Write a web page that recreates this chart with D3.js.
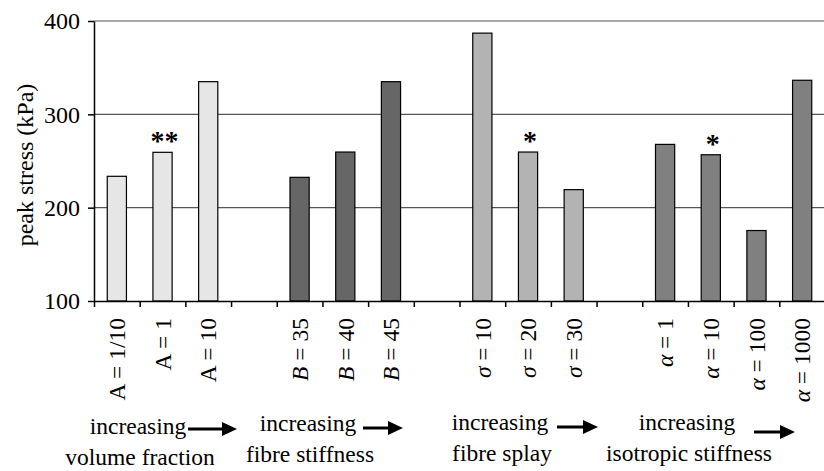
<html>
<head>
<style>
body { margin: 0; padding: 0; background: #fff; }
svg { display: block; }
text { font-family: "Liberation Serif", "Times New Roman", serif; fill: #000; }
.grid line { stroke: #555; stroke-width: 1.2; }
.axis path, .axis line { stroke: #000; stroke-width: 1.5; }
.bars rect { stroke: #000; stroke-width: 1.2; }
</style>
<script src="https://cdnjs.cloudflare.com/ajax/libs/d3/7.8.5/d3.min.js"></script>
</head>
<body>
<svg width="824" height="471"></svg>

<script>
var width = 824, height = 471

// data
var symbols = ['A', 'A', 'A', 'B', 'B', 'B', 'σ', 'σ', 'σ', 'α', 'α', 'α', 'α']
var settings = ['1/10', '1', '10', '35', '40', '45', '10', '20', '30', '1', '10', '100', '1000']
var peakStress = [233.6, 259.3, 335, 232.5, 259.6, 335, 387, 259.6, 219.3, 267.8, 256.7, 175.5, 336.5]
var marks = ['', '**', '', '', '', '', '', '*', '', '', '*', '', '']
var groupOf = [0, 0, 0, 1, 1, 1, 2, 2, 2, 3, 3, 3, 3]
var yTicks = [100, 200, 300, 400]
var captionTop = ['increasing', 'increasing', 'increasing', 'increasing']
var captionBottom = ['volume fraction', 'fibre stiffness', 'fibre splay', 'isotropic stiffness']

var groupColors = ['#e6e6e6', '#666666', '#b3b3b3', '#808080']
var italicSymbols = ['B', 'σ', 'α']

// slots along the x axis, one empty slot between groups
var slots = []
symbols.forEach(function(s, i) {
	if (i > 0 && groupOf[i] != groupOf[i - 1]) slots.push('gap' + i)
	slots.push('c' + i)
})

var plotLeft = 94, plotRight = 825, plotTop = 21, plotBottom = 301

var x = d3.scaleBand()
	.domain(slots)
	.range([plotLeft, plotRight])
	.paddingInner(0.58)
	.paddingOuter(0.29)

var xSlot = d3.scaleLinear().domain([0, slots.length]).range([plotLeft, plotRight])

var y = d3.scaleLinear().domain([100, 400]).range([plotBottom, plotTop])

var svg = d3.select('svg')

// gridlines
svg.append('g').attr('class', 'grid')
	.selectAll('line')
	.data(yTicks.slice(1))
	.join('line')
	.attr('x1', plotLeft).attr('x2', width)
	.attr('y1', function(d) { return y(d) })
	.attr('y2', function(d) { return y(d) })

// bars
svg.append('g').attr('class', 'bars')
	.selectAll('rect')
	.data(peakStress)
	.join('rect')
	.attr('x', function(d, i) { return x('c' + i) })
	.attr('width', x.bandwidth())
	.attr('y', function(d) { return y(d) })
	.attr('height', function(d) { return y(100) - y(d) })
	.attr('fill', function(d, i) { return groupColors[groupOf[i]] })

// significance stars
svg.append('g')
	.selectAll('text')
	.data(peakStress)
	.join('text')
	.attr('x', function(d, i) { return x('c' + i) + x.bandwidth() / 2 + 2 })
	.attr('y', function(d) { return y(d) - 2 })
	.attr('text-anchor', 'middle')
	.style('font-size', '28px')
	.style('font-weight', 'bold')
	.text(function(d, i) { return marks[i] })

// y axis
var yAxis = svg.append('g').attr('class', 'axis')
	.attr('transform', 'translate(' + plotLeft + ',0)')
	.attr('font-family', null)
	.call(d3.axisLeft(y).tickValues(yTicks).tickSize(6).tickPadding(8).tickSizeOuter(0))
yAxis.attr('font-family', null)
yAxis.selectAll('text').style('font-size', '24px').style('font-family', '"Liberation Serif", serif')

// x axis with ticks between the slots
svg.append('g').attr('class', 'axis')
	.attr('transform', 'translate(0,' + plotBottom + ')')
	.call(d3.axisBottom(xSlot).tickValues(d3.range(slots.length + 1)).tickFormat('').tickSize(6).tickSizeOuter(0))

// category labels
var labels = svg.append('g')
	.selectAll('text')
	.data(symbols)
	.join('text')
	.attr('transform', function(d, i) {
		return 'translate(' + (x('c' + i) + x.bandwidth() / 2) + ',318) rotate(-90)'
	})
	.attr('text-anchor', 'end')
	.attr('dy', '0.35em')
	.style('font-size', '23.5px')
labels.append('tspan')
	.style('font-style', function(d) { return italicSymbols.indexOf(d) >= 0 ? 'italic' : 'normal' })
	.text(function(d) { return d })
labels.append('tspan')
	.text(function(d, i) { return ' = ' + settings[i] })

// y axis title
svg.append('text')
	.attr('transform', 'translate(25,165) rotate(-90)')
	.attr('text-anchor', 'middle')
	.attr('dy', '0.35em')
	.style('font-size', '24px')
	.text('peak stress (kPa)')

// captions with arrows under each group
var captionX = [138, 308, 500, 687]
var captionY = [434, 431, 430, 430]
var arrowX = [[188, 237], [363, 403], [557, 598], [754, 795]]
var arrowY = [429, 428, 427, 432]

var captions = svg.append('g')
	.selectAll('g')
	.data(captionTop)
	.join('g')

captions.append('text')
	.attr('x', function(d, i) { return captionX[i] })
	.attr('y', function(d, i) { return captionY[i] })
	.attr('text-anchor', 'middle')
	.style('font-size', '23.5px')
	.text(function(d) { return d })

captions.append('text')
	.attr('x', function(d, i) { return captionX[i] + 2 })
	.attr('y', function(d, i) { return captionY[i] + 31 })
	.attr('text-anchor', 'middle')
	.style('font-size', '23.5px')
	.text(function(d, i) { return captionBottom[i] })

captions.append('line')
	.attr('x1', function(d, i) { return arrowX[i][0] })
	.attr('x2', function(d, i) { return arrowX[i][1] - 12 })
	.attr('y1', function(d, i) { return arrowY[i] })
	.attr('y2', function(d, i) { return arrowY[i] })
	.attr('stroke', '#000')
	.attr('stroke-width', 3)

captions.append('path')
	.attr('d', function(d, i) {
		var e = arrowX[i][1], m = arrowY[i]
		return 'M' + e + ',' + m + 'L' + (e - 15) + ',' + (m - 7) + 'L' + (e - 15) + ',' + (m + 7) + 'Z'
	})
	.attr('fill', '#000')
</script>
</body>
</html>
